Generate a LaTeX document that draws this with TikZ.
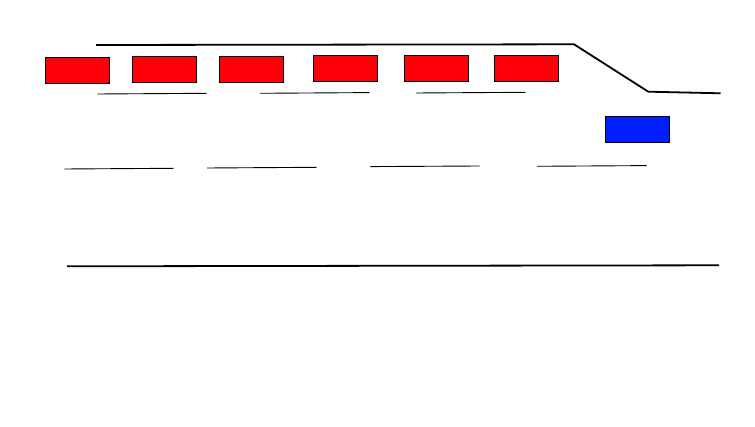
\documentclass[tikz,border=0pt]{standalone}
\begin{document}
\begin{tikzpicture}[x=1pt,y=-1pt,
  redcar/.style={draw=black,line width=0.8pt,fill={rgb,255:red,255;green,0;blue,8},minimum width=64pt,minimum height=26pt,inner sep=0pt,outer sep=0pt,anchor=north west},
  bluecar/.style={redcar,fill={rgb,255:red,0;green,30;blue,255}},
  thick line/.style={line width=1.8pt,line join=round},
  thin line/.style={line width=0.9pt}]
\useasboundingbox (0,0) rectangle (755,427);
% road edges
\draw[thick line] (96,45) -- (574,44.3) -- (648.3,91.7) -- (720.7,93.3);
\draw[thick line] (67,266.3) -- (719,265.3);
% lane marks
\draw[thin line] (97.3,94) -- (206.7,93.3);
\draw[thin line] (260,93.3) -- (369.3,92.6);
\draw[thin line] (416,93) -- (525.7,92.3);
\draw[thin line] (64.3,169) -- (173.7,168.3);
\draw[thin line] (207,168) -- (316.7,167.3);
\draw[thin line] (370.3,166.6) -- (479.7,166);
\draw[thin line] (537,166.3) -- (646.7,165.6);
% cars
\node[redcar] (r1) at (45.3,57.3) {};
\node[redcar] (r2) at (132.3,56.3) {};
\node[redcar] (r3) at (219.3,56.3) {};
\node[redcar] (r4) at (313.3,55.3) {};
\node[redcar] (r5) at (404.3,55.3) {};
\node[redcar] (r6) at (494.3,55.3) {};
\node[bluecar] (b1) at (605.3,116.3) {};
\end{tikzpicture}
\end{document}
